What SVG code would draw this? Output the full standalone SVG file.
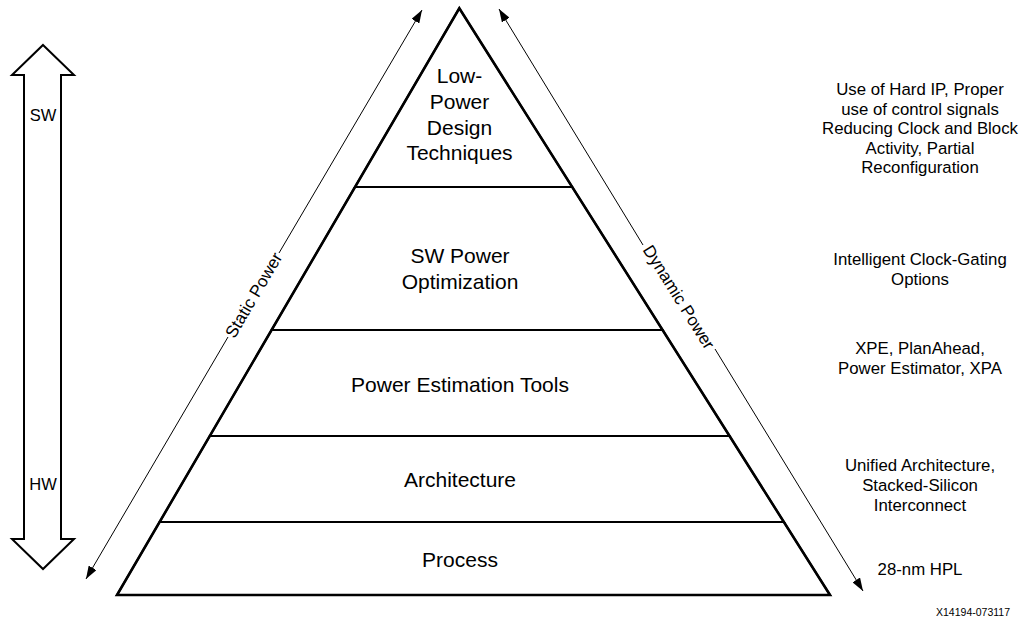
<svg xmlns="http://www.w3.org/2000/svg" width="1028" height="622" viewBox="0 0 1028 622">
<style>
text{font-family:"Liberation Sans",Arial,Helvetica,sans-serif;fill:#000}
.tier{fill:#fff;stroke:#000;stroke-width:2}
.t{font-size:21px;text-anchor:middle}
.r{font-size:16.8px;text-anchor:middle}
.side{font-size:16.5px;text-anchor:middle}
.diag{font-size:17px;text-anchor:middle}
.thin{stroke:#000;stroke-width:1;fill:none}
</style>
<defs>
<marker id="ah" viewBox="0 0 13 9" refX="13" refY="4.5" markerWidth="13" markerHeight="9" markerUnits="userSpaceOnUse" orient="auto">
<path d="M0,0 L13,4.5 L0,9 Z" fill="#000"/>
</marker>
</defs>
<rect width="1028" height="622" fill="#fff"/>

<g id="hw-sw-arrow">
<polygon points="43,45 74,75 61,75 61,539 74,539 43,569 12,539 24,539 24,75 12,75" fill="#fff" stroke="#000" stroke-width="2"/>
<text class="side" x="43" y="121">SW</text>
<text class="side" x="43" y="490">HW</text>
</g>

<g id="tier-low-power">
<polygon class="tier" points="459.3,8.3 572.2,187 355,187"/>
<text class="t" x="459.5" y="83.3">Low-</text>
<text class="t" x="459.5" y="109">Power</text>
<text class="t" x="459.5" y="134.7">Design</text>
<text class="t" x="459.5" y="160.4">Techniques</text>
</g>
<g id="tier-sw-power">
<polygon class="tier" points="355,187 572.2,187 662.6,330 271.6,330"/>
<text class="t" x="460" y="263">SW Power</text>
<text class="t" x="460" y="289">Optimization</text>
</g>
<g id="tier-estimation">
<polygon class="tier" points="271.6,330 662.6,330 729.5,436 209.8,436"/>
<text class="t" x="460" y="392">Power Estimation Tools</text>
</g>
<g id="tier-architecture">
<polygon class="tier" points="209.8,436 729.5,436 783.9,522 159.6,522"/>
<text class="t" x="460" y="487">Architecture</text>
</g>
<g id="tier-process">
<polygon class="tier" points="159.6,522 783.9,522 830,595 117,595"/>
<text class="t" x="460" y="567">Process</text>
</g>
<polygon id="pyramid-outline" points="459.3,8.3 830,595 117,595" fill="none" stroke="#000" stroke-width="2.6" stroke-linejoin="miter"/>

<g id="connectors">
<line class="thin" x1="228" y1="337" x2="86" y2="579" marker-end="url(#ah)"/>
<line class="thin" x1="279" y1="253" x2="422" y2="10" marker-end="url(#ah)"/>
<line class="thin" x1="643" y1="245" x2="499" y2="9" marker-end="url(#ah)"/>
<line class="thin" x1="715" y1="349" x2="863" y2="591" marker-end="url(#ah)"/>
</g>
<g id="label-static">
<text class="diag" transform="translate(253.5,295) rotate(-59.44)" x="0" y="6">Static Power</text>
</g>
<g id="label-dynamic">
<text class="diag" transform="translate(679,297) rotate(58)" x="0" y="6">Dynamic Power</text>
</g>

<g id="note-low-power">
<text class="r" x="920" y="95">Use of Hard IP, Proper</text>
<text class="r" x="920" y="114.5">use of control signals</text>
<text class="r" x="920" y="134">Reducing Clock and Block</text>
<text class="r" x="920" y="153.5">Activity, Partial</text>
<text class="r" x="920" y="173">Reconfiguration</text>
</g>
<g id="note-sw">
<text class="r" x="920" y="265">Intelligent Clock-Gating</text>
<text class="r" x="920" y="285">Options</text>
</g>
<g id="note-estimation">
<text class="r" x="920" y="353.5">XPE, PlanAhead,</text>
<text class="r" x="920" y="373.5">Power Estimator, XPA</text>
</g>
<g id="note-architecture">
<text class="r" x="920" y="471">Unified Architecture,</text>
<text class="r" x="920" y="491">Stacked-Silicon</text>
<text class="r" x="920" y="511">Interconnect</text>
</g>
<g id="note-process">
<text class="r" x="920" y="574.5">28-nm HPL</text>
</g>
<text x="1010" y="616" font-size="10.5" text-anchor="end">X14194-073117</text>
</svg>
